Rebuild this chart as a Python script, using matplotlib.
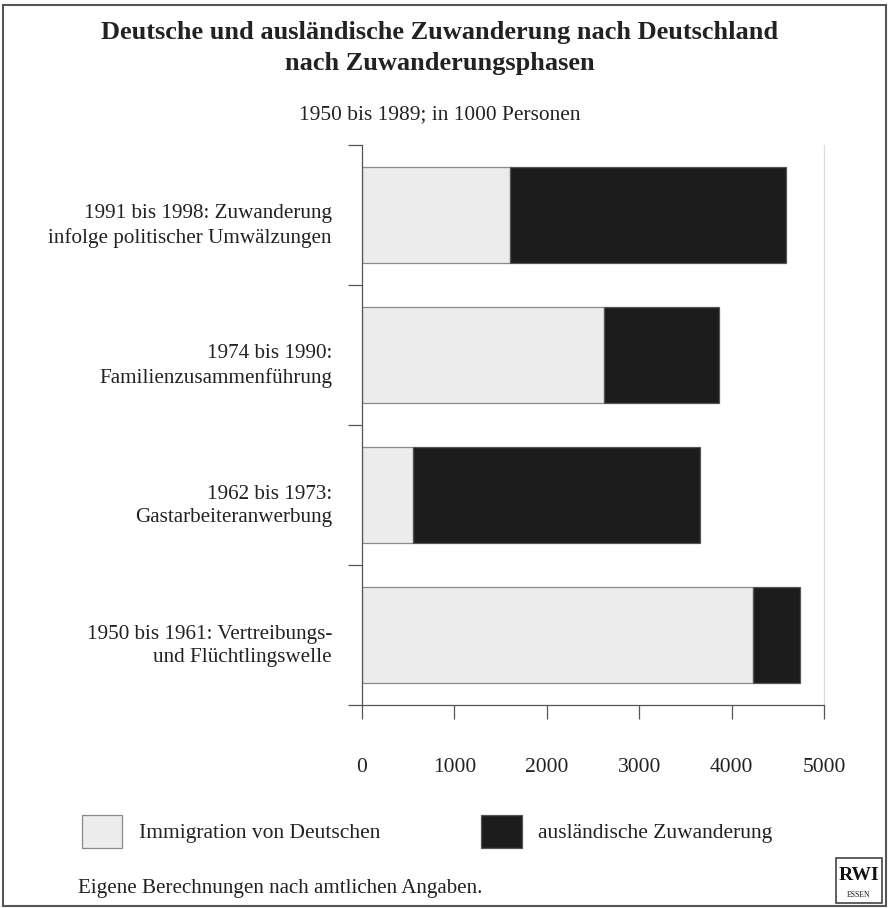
import matplotlib
matplotlib.use('Agg')
from matplotlib import pyplot as plt
from matplotlib.patches import Rectangle

plt.rcParams['font.family'] = ['Liberation Serif', 'DejaVu Serif']

# Daten (in 1000 Personen), von unten nach oben
phasen = ['1950 bis 1961: Vertreibungs-\nund Flüchtlingswelle',
          '1962 bis 1973:\nGastarbeiteranwerbung',
          '1974 bis 1990:\nFamilienzusammenführung',
          '1991 bis 1998: Zuwanderung\ninfolge politischer Umwälzungen']
deutsche = [4232, 552, 2619, 1602]
auslaender = [513, 3106, 1241, 2983]
x_ticks = [0, 1000, 2000, 3000, 4000, 5000]

W, H = 889, 908
txt = '#222222'
ax_col = '#555555'

fig = plt.figure(figsize=(W / 100, H / 100), dpi=100)
ax = fig.add_axes([362 / W, 1 - 705 / H, (824 - 362) / W, (705 - 145) / H])

y = list(range(len(phasen)))
ax.barh(y, deutsche, height=0.68, color='#ececec', edgecolor='#8a8a8a',
        linewidth=0.9, label='Immigration von Deutschen')
ax.barh(y, auslaender, left=deutsche, height=0.68, color='#1c1c1c',
        edgecolor='#555555', linewidth=0.9, label='ausländische Zuwanderung')

ax.set_xlim(0, 5000)
ax.set_ylim(-0.5, len(phasen) - 0.5)
ax.set_xticks(x_ticks)
ax.set_xticklabels([str(v) for v in x_ticks], fontsize=15.5, color=txt)
ax.set_yticks([i - 0.5 for i in range(len(phasen) + 1)])
ax.set_yticklabels([])
ax.tick_params(axis='x', direction='out', length=10, width=0.9,
               color=ax_col, pad=28)
ax.tick_params(axis='y', direction='out', length=10, width=0.9,
               color=ax_col)

for s in ['left', 'bottom']:
    ax.spines[s].set_color(ax_col)
    ax.spines[s].set_linewidth(0.9)
ax.spines['top'].set_visible(False)
ax.spines['right'].set_color('#dddddd')
ax.spines['right'].set_linewidth(0.9)

for i, lab in enumerate(phasen):
    ax.text(-0.065, i - 0.08, lab, transform=ax.get_yaxis_transform(),
            ha='right', va='center', fontsize=15.2, color=txt,
            linespacing=1.32, multialignment='right')

# Titel
fig.text(440 / W, 1 - 48 / H,
         'Deutsche und ausländische Zuwanderung nach Deutschland\nnach Zuwanderungsphasen',
         ha='center', va='center', fontsize=19, fontweight='bold',
         color=txt, linespacing=1.4)
fig.text(440 / W, 1 - 115 / H, '1950 bis 1989; in 1000 Personen',
         ha='center', va='center', fontsize=15.4, color=txt)

# Legende
fig.legend(loc='upper left', bbox_to_anchor=(82 / W, 1 - 815 / H),
           ncol=2, frameon=False, fontsize=15.5, borderpad=0,
           borderaxespad=0, handlelength=1.87, handleheight=1.95,
           handletextpad=0.77, columnspacing=4.7, labelcolor=txt)

fig.text(78 / W, 1 - 889 / H, 'Eigene Berechnungen nach amtlichen Angaben.',
         ha='left', va='center', fontsize=15.1, color=txt)

# Logo
fig.add_artist(Rectangle((836 / W, 1 - 903 / H), 46 / W, 45 / H,
                         transform=fig.transFigure, fill=False,
                         edgecolor='#444444', linewidth=1.2))
fig.text(859 / W, 1 - 875 / H, 'RWI', ha='center', va='center',
         fontsize=14, color='#111111', fontweight='bold')
fig.text(859 / W, 1 - 895 / H, 'ESSEN', ha='center', va='center',
         fontsize=5.5, color='#111111')

# Rahmen
fig.add_artist(Rectangle((3 / W, 1 - 906 / H), 883 / W, 901 / H,
                         transform=fig.transFigure, fill=False,
                         edgecolor='#555555', linewidth=1.5))

fig.savefig('out.png', dpi=100, facecolor='white')
